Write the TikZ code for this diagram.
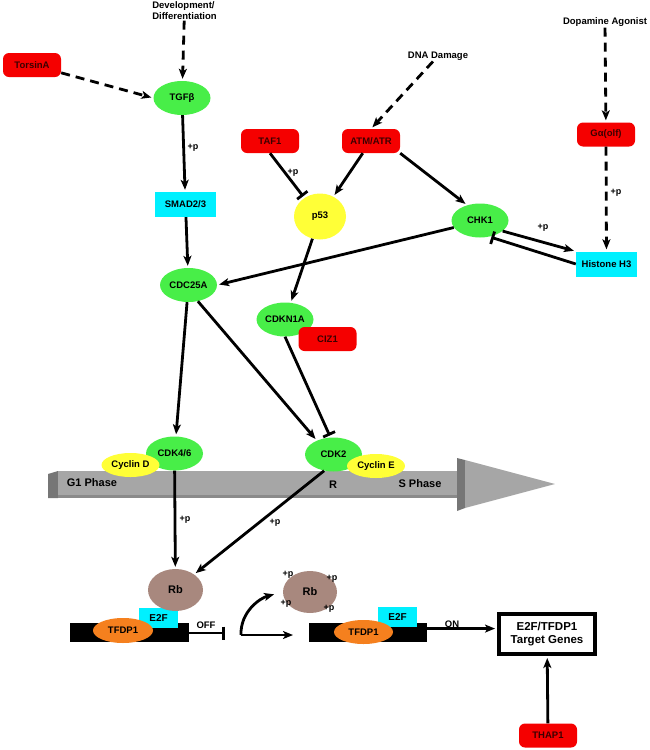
\documentclass[tikz,border=0pt]{standalone}
\usepackage{fontspec}
\setmainfont{Liberation Sans}
\usetikzlibrary{arrows.meta,shapes.geometric}
\definecolor{pred}{RGB}{245,0,0}
\definecolor{ptxt}{RGB}{60,0,0}
\definecolor{pgreen}{RGB}{72,238,72}
\definecolor{pyel}{RGB}{255,255,55}
\definecolor{pcyan}{RGB}{0,240,255}
\definecolor{porange}{RGB}{245,128,30}
\definecolor{pbrown}{RGB}{168,136,126}
\definecolor{plight}{RGB}{166,166,166}
\definecolor{pdark}{RGB}{118,118,118}
\tikzset{
  txt/.style  = {inner sep=1pt, font=\fontsize{9.5}{11}\selectfont\bfseries},
  prot/.style = {rounded corners=6pt, fill=pred, text=ptxt, inner sep=0pt,
                 minimum width=58pt, minimum height=24pt,
                 font=\fontsize{9.5}{11}\selectfont\bfseries},
  kin/.style  = {ellipse, fill=pgreen, inner sep=0pt, minimum width=57pt,
                 minimum height=34pt, font=\fontsize{9.5}{11}\selectfont\bfseries},
  cyc/.style  = {ellipse, fill=pyel, inner sep=0pt, minimum width=58pt,
                 minimum height=24pt, font=\fontsize{9.5}{11}\selectfont\bfseries},
  tf/.style   = {fill=pcyan, inner sep=0pt, minimum width=61pt,
                 minimum height=25pt, font=\fontsize{9.5}{11}\selectfont\bfseries},
  rbp/.style  = {ellipse, fill=pbrown, inner sep=0pt, minimum width=55pt,
                 minimum height=42pt, font=\fontsize{11}{13}\selectfont\bfseries},
  dp/.style   = {ellipse, fill=porange, inner sep=0pt, minimum width=60pt,
                 minimum height=25pt, font=\fontsize{9.5}{11}\selectfont\bfseries},
  e2f/.style  = {fill=pcyan, inner sep=0pt, minimum width=39pt,
                 minimum height=20pt, font=\fontsize{10}{12}\selectfont\bfseries},
  dna/.style  = {fill=black, inner sep=0pt, minimum height=19pt},
  lab/.style  = {inner sep=0pt, font=\fontsize{9}{10}\selectfont\bfseries},
  phase/.style= {inner sep=0pt, font=\fontsize{11}{13}\selectfont\bfseries},
  e/.style    = {-{Stealth[length=10pt,width=8pt,inset=2.5pt]}, line width=2.8pt,
                 shorten >=2pt},
  dsh/.style  = {e, dash pattern=on 9pt off 6pt},
  inh/.style  = {-{Bar[width=13pt]}, line width=2.8pt, shorten >=2pt}
}
\begin{document}
\begin{tikzpicture}[x=1pt,y=-1pt]
  \useasboundingbox (0,0) rectangle (649,750);
  % ---- cell cycle arrow ----
  \fill[pdark] (48,474) -- (58,471) -- (58,498) -- (48,498) -- cycle;
  \fill[plight] (58,471) rectangle (457,497);
  \fill[pdark!85] (58,495) rectangle (457,498);
  \fill[pdark] (457,458) -- (465,460) -- (465,508) -- (457,511) -- cycle;
  \fill[plight] (465,460) -- (555,484) -- (465,508) -- cycle;
  \node[phase] (g1) at (92,483) {G1 Phase};
  \node[phase] (rpt) at (333,485) {R};
  \node[phase] (sph) at (420,484) {S Phase};
  % ---- inputs ----
  \node[txt, align=left] (dev) at (184.5,10.5) {Development/\\Differentiation};
  \node[txt] (dmg) at (438,56) {DNA Damage};
  \node[txt] (dop) at (605,22) {Dopamine Agonist};
  % ---- signalling nodes ----
  \node[prot] (tor) at (32,65) {TorsinA};
  \node[kin] (tgf) at (182,98) {TGFβ};
  \node[tf] (smad) at (185.5,204.5) {SMAD2/3};
  \node[prot] (taf) at (270,141) {TAF1};
  \node[prot] (atm) at (371,141) {ATM/ATR};
  \node[kin, fill=pyel, minimum width=52pt, minimum height=46pt] (p53) at (320,216.5) {p53};
  \node[kin] (chk) at (480,220.5) {CHK1};
  \node[prot] (golf) at (606,134.5) {Gα(olf)};
  \node[tf] (h3) at (606.5,264) {Histone H3};
  \node[kin] (cdc) at (188.5,285) {CDC25A};
  \node[kin] (cdkn) at (285,319.5) {CDKN1A};
  \node[prot] (ciz) at (327.5,339) {CIZ1};
  \node[kin] (cdk46) at (174.5,453.5) {CDK4/6};
  \node[cyc] (cycd) at (130.5,465) {Cyclin D};
  \node[kin] (cdk2) at (333.5,454.5) {CDK2};
  \node[cyc] (cyce) at (376,466) {Cyclin E};
  % ---- promoter, off ----
  \node[dna, minimum width=119pt] (bar1) at (129.5,632) {};
  \node[e2f] (e2f1) at (158.5,618) {E2F};
  \node[dp] (dp1) at (123,630.5) {TFDP1};
  \node[rbp] (rb1) at (175.5,590) {Rb};
  \node[txt] (off) at (206,625) {OFF};
  \coordinate (offend) at (225,633);
  % ---- promoter, on ----
  \node[rbp, minimum width=54pt] (rb2) at (310,592) {Rb};
  \node[lab] (q1) at (288,575) {+p};
  \node[lab] (q2) at (332,579) {+p};
  \node[lab] (q3) at (286,604) {+p};
  \node[lab] (q4) at (329,609) {+p};
  \coordinate (fork) at (241,635);
  \coordinate (fwd) at (295,635);
  \node[dna, minimum width=118pt] (bar2) at (368,632) {};
  \node[e2f] (e2f2) at (397.5,617) {E2F};
  \node[dp, minimum width=59pt, minimum height=24pt] (dp2) at (363.5,632) {TFDP1};
  \node[txt] (on) at (452,624) {ON};
  \node[draw, line width=4pt, inner sep=0pt, minimum width=96pt, minimum height=40pt,
        align=center, font=\fontsize{11.5}{13}\selectfont\bfseries] (tgt) at (547,634)
        {E2F/TFDP1\\Target Genes};
  \node[prot] (thap) at (548,735.5) {THAP1};
  % ---- edges ----
  \draw[dsh] (dev) -- (tgf);
  \draw[dsh] (tor.-15) -- (tgf.west);
  \draw[dsh] (dmg) -- (atm.north);
  \draw[dsh] (dop) -- (golf);
  \draw[dsh] (golf) -- (h3);
  \draw[e] (tgf) -- (smad);
  \draw[e] (smad) -- (cdc);
  \draw[inh] (taf.south) -- (p53.130);
  \draw[e] (atm) -- (p53);
  \draw[e] (atm.south east) -- (chk.130);
  \draw[e] (chk.-25) -- (h3.north west);
  \draw[inh] (h3.west) -- (chk.-60);
  \draw[e] (chk.195) -- (cdc.east);
  \draw[e] (p53) -- (cdkn);
  \draw[inh] (cdkn.south) -- (cdk2.100);
  \draw[e] (cdc) -- (cdk46);
  \draw[e] (cdc.-60) -- (cdk2.140);
  \draw[e] (cdk46) -- (rb1);
  \draw[e] (cdk2.-120) -- (rb1.40);
  \draw[inh, shorten >=0pt] (bar1.east |- offend) -- (offend);
  \draw[e] (fork) -- (fwd);
  \draw[e, shorten >=9pt] (fork) to[out=92,in=195] (rb2.west);
  \draw[e] (bar2.east |- on.south) -- (tgt.west |- on.south);
  \draw[e] (thap) -- (tgt);
  % ---- phosphorylation labels ----
  \node[lab] (p1) at (193,148) {+p};
  \node[lab] (p2) at (293,173) {+p};
  \node[lab] (p3) at (616,193) {+p};
  \node[lab] (p4) at (543,228) {+p};
  \node[lab] (p5) at (185,520) {+p};
  \node[lab] (p6) at (275,523) {+p};
\end{tikzpicture}
\end{document}
